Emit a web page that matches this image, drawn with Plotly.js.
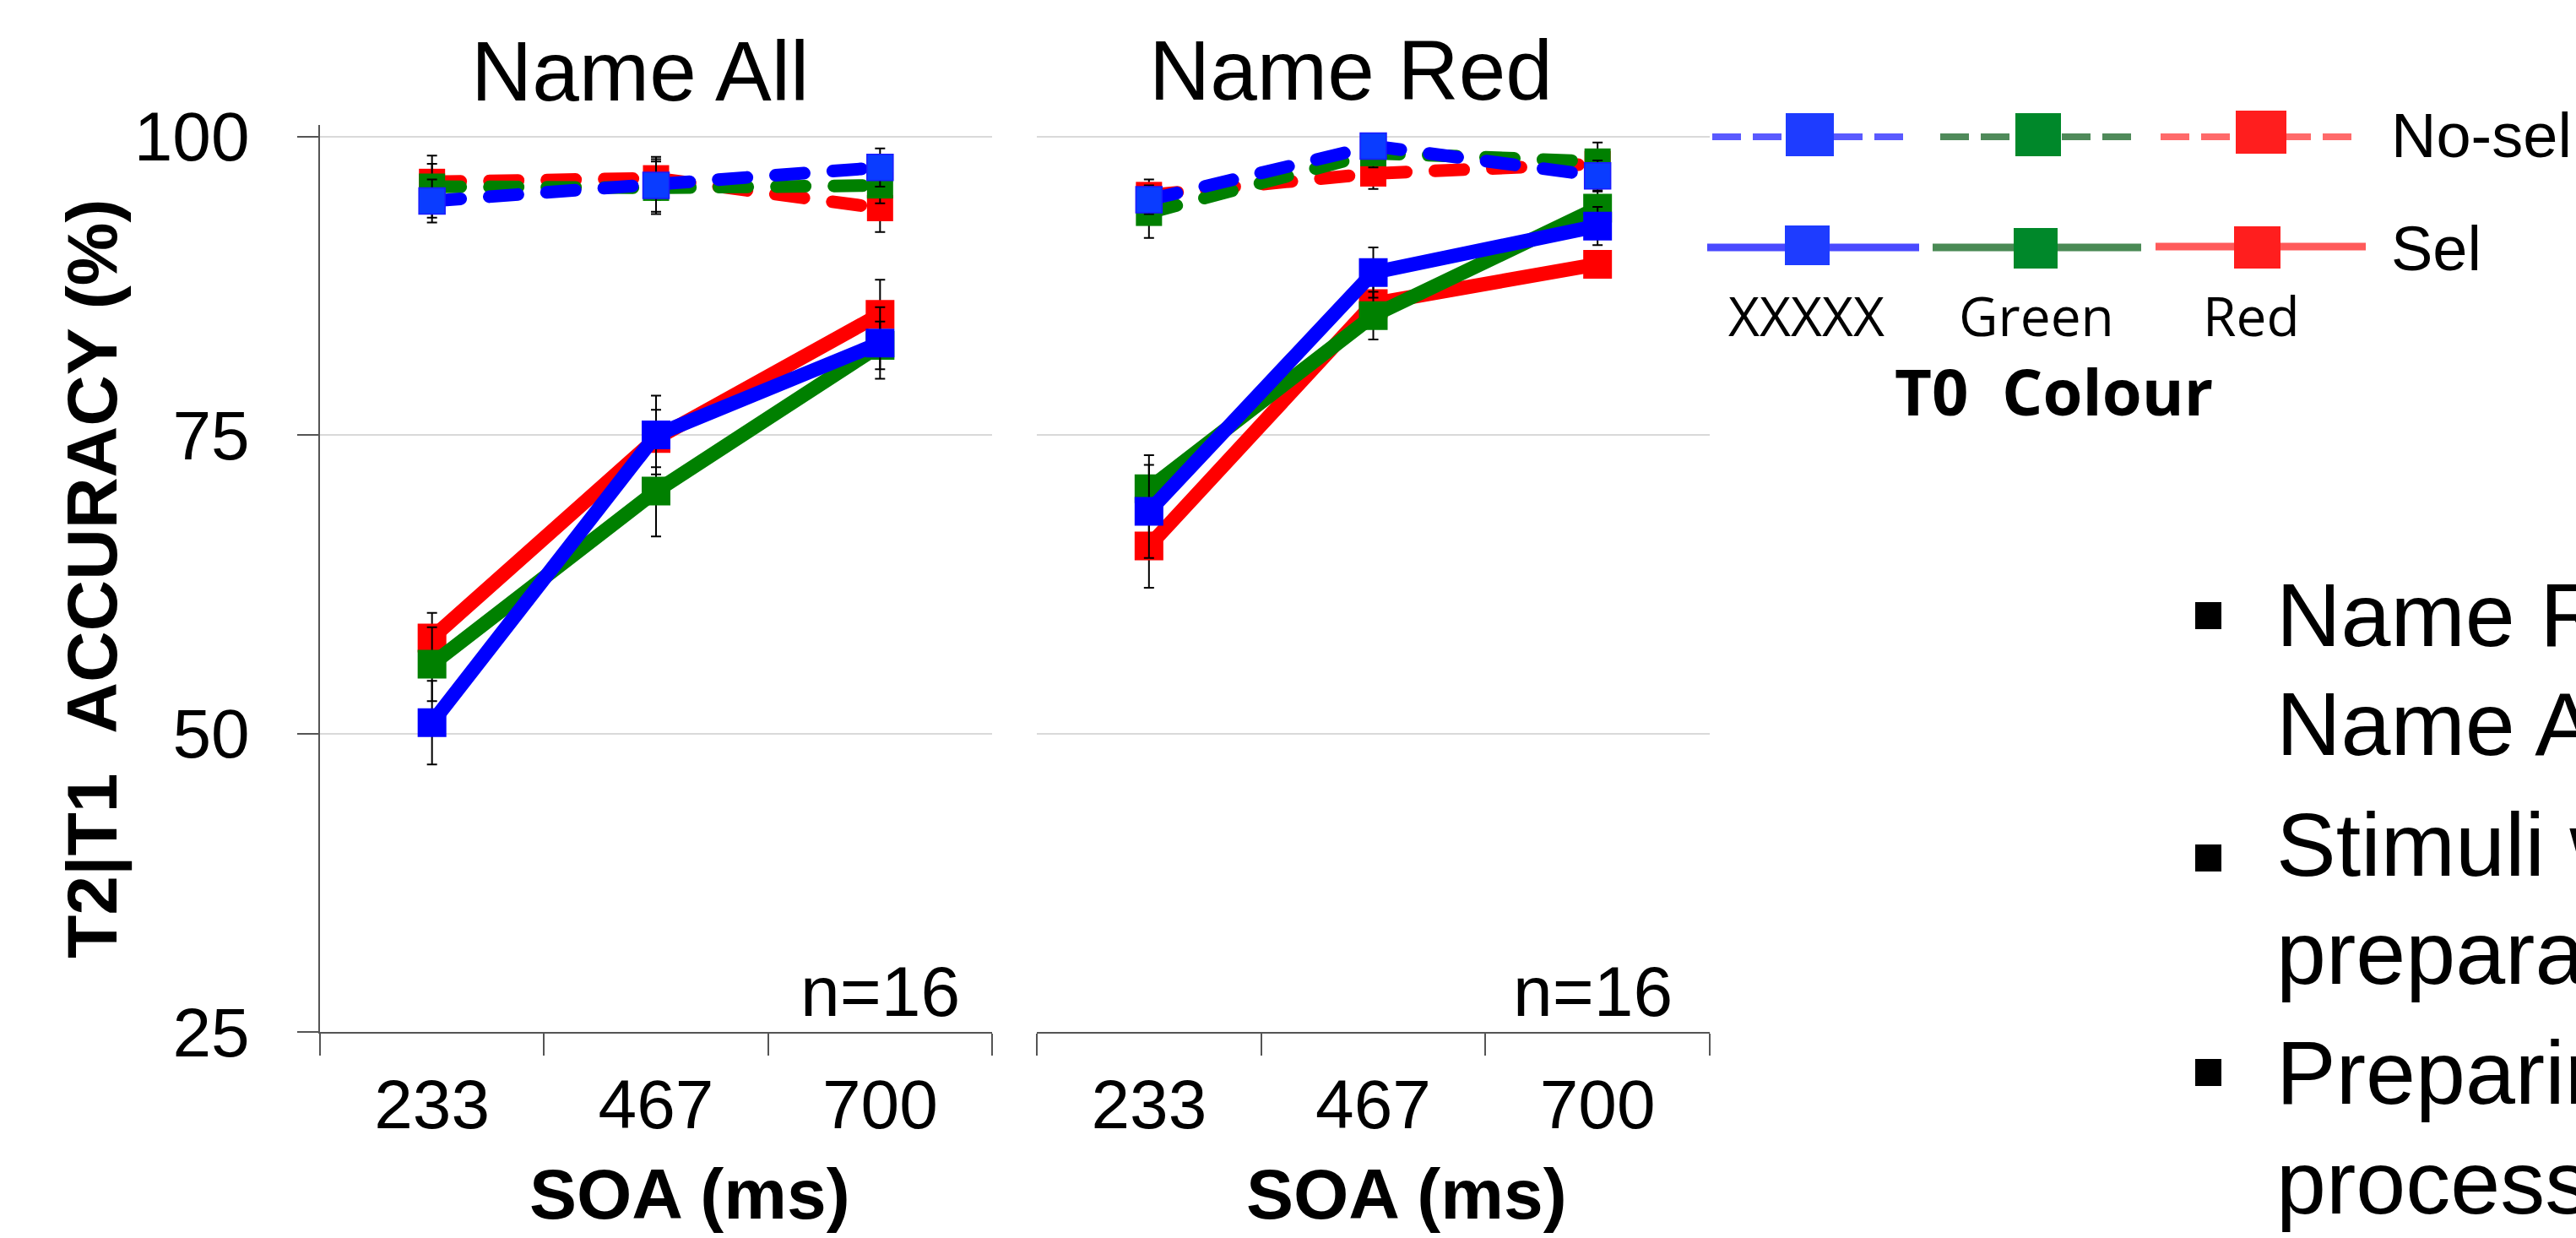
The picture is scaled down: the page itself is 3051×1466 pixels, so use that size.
<!DOCTYPE html>
<html><head><meta charset="utf-8">
<script src="https://cdn.plot.ly/plotly-3.0.1.min.js"></script>
<style>
html,body{margin:0;padding:0;background:#fff;}
#chart{width:3051px;height:1466px;}
.js-line{stroke-linecap:round;stroke-linejoin:round;}
</style></head><body><div id="chart"></div>
<script>
// ---------------- data ----------------
const soa = ['233', '467', '700'];
const yTickVals = [25, 50, 75, 100];
const panelTitles = ['Name All', 'Name Red'];
const colourNames = ['XXXXX', 'Green', 'Red'];
const condNames = ['No-sel', 'Sel'];

// Name All panel
const allNoSelXXXXX = [94.6, 95.9, 97.4];
const allNoSelGreen = [95.8, 95.7, 95.9];
const allNoSelRed   = [96.2, 96.5, 94.0];
const allSelXXXXX   = [50.9, 75.0, 82.7];
const allSelGreen   = [55.8, 70.3, 82.5];
const allSelRed     = [58.0, 74.7, 85.1];
const allNoSelXXXXXErr = [1.8, 2.2, 1.6];
const allNoSelGreenErr = [2.6, 2.2, 1.5];
const allNoSelRedErr   = [1.5, 1.8, 2.0];
const allSelXXXXXErr   = [3.5, 3.3, 3.0];
const allSelGreenErr   = [3.1, 3.8, 2.0];
const allSelRedErr     = [2.1, 2.4, 2.9];

// Name Red panel
const redNoSelXXXXX = [94.7, 99.2, 96.7];
const redNoSelGreen = [93.6, 98.6, 97.9];
const redNoSelRed   = [95.1, 96.9, 97.7];
const redSelXXXXX   = [68.6, 88.6, 92.5];
const redSelGreen   = [70.5, 85.0, 94.0];
const redSelRed     = [65.7, 86.0, 89.3];
const redNoSelXXXXXErr = [1.2, 0.9, 1.3];
const redNoSelGreenErr = [2.1, 1.2, 1.6];
const redNoSelRedErr   = [1.3, 1.3, 1.2];
const redSelXXXXXErr   = [3.9, 2.1, 1.6];
const redSelGreenErr   = [2.8, 2.0, 1.5];
const redSelRedErr     = [3.5, 2.0, 1.0];

const bulletLines = ['Name R', 'Name A', 'Stimuli w', 'prepara', 'Preparin', 'process'];

// ---------------- styling ----------------
const W = 3051, H = 1466;
const px = v => v / W;
const py = v => 1 - v / H;
const FONT = 'Liberation Sans, Arial, sans-serif';
const LEGFONT = 'Open Sans, Noto Sans, sans-serif';
const COL = {red: '#ff0000', green: '#008000', blue: '#0000ff'};

function series(xa, ya, y, err, colour, sel) {
  const isBlueNoSel = !sel && colour === COL.blue;
  return {
    type: 'scatter', mode: 'lines+markers', xaxis: xa, yaxis: ya,
    x: soa, y: y,
    line: {color: colour, width: sel ? 17 : 15, dash: sel ? 'solid' : '34px,34px'},
    marker: {symbol: 'square', size: sel ? 34 : 31,
             color: isBlueNoSel ? '#0a3cff' : colour,
             line: {color: isBlueNoSel ? '#1a1aff' : colour, width: isBlueNoSel ? 1.5 : 0}},
    error_y: {type: 'data', array: err, visible: true, color: '#000', thickness: 2, width: 6},
    hoverinfo: 'skip'
  };
}

const traces = [
  series('x', 'y', allSelRed, allSelRedErr, COL.red, true),
  series('x', 'y', allNoSelRed, allNoSelRedErr, COL.red, false),
  series('x', 'y', allSelGreen, allSelGreenErr, COL.green, true),
  series('x', 'y', allNoSelGreen, allNoSelGreenErr, COL.green, false),
  series('x', 'y', allSelXXXXX, allSelXXXXXErr, COL.blue, true),
  series('x', 'y', allNoSelXXXXX, allNoSelXXXXXErr, COL.blue, false),
  series('x2', 'y2', redSelRed, redSelRedErr, COL.red, true),
  series('x2', 'y2', redNoSelRed, redNoSelRedErr, COL.red, false),
  series('x2', 'y2', redSelGreen, redSelGreenErr, COL.green, true),
  series('x2', 'y2', redNoSelGreen, redNoSelGreenErr, COL.green, false),
  series('x2', 'y2', redSelXXXXX, redSelXXXXXErr, COL.blue, true),
  series('x2', 'y2', redNoSelXXXXX, redNoSelXXXXXErr, COL.blue, false)
];

const yDomain = [py(1222), py(148)];
const yRange = [25, 100 + (161.6 - 148) / 14.14];

function xAxis(domain, anchor) {
  return {
    domain: domain, anchor: anchor, type: 'category', range: [-0.5, 2.5],
    tickson: 'boundaries', ticks: 'outside', ticklen: 26, tickwidth: 2, tickcolor: '#555',
    showline: true, linecolor: '#555', linewidth: 2, showgrid: false, zeroline: false,
    tickfont: {family: FONT, size: 82, color: '#000'}, ticklabelstandoff: 14,
    fixedrange: true
  };
}
function yAxis(anchor, visibleAxis) {
  return {
    domain: yDomain, anchor: anchor, range: yRange, tickmode: 'array', tickvals: yTickVals,
    ticktext: yTickVals.map(String),
    ticks: visibleAxis ? 'outside' : '', ticklen: 25, tickwidth: 2, tickcolor: '#555',
    showline: visibleAxis, linecolor: '#555', linewidth: 2,
    showticklabels: visibleAxis,
    showgrid: true, gridcolor: '#d9d9d9', gridwidth: 2, zeroline: false,
    tickfont: {family: FONT, size: 82, color: '#000'}, ticklabelstandoff: 40,
    fixedrange: true
  };
}

const annotations = [];
function txt(text, x, y, size, opts) {
  annotations.push(Object.assign({
    text: text, x: px(x), y: py(y), xref: 'paper', yref: 'paper',
    showarrow: false, xanchor: 'center', yanchor: 'middle',
    font: {family: FONT, size: size, color: '#000'}
  }, opts || {}));
}
// panel titles
txt(panelTitles[0], 758, 84, 100);
txt(panelTitles[1], 1600, 83, 100);
// axis titles
txt('<b>SOA (ms)</b>', 817, 1414, 84);
txt('<b>SOA (ms)</b>', 1666, 1414, 84);
txt('<b>T2|T1\u00a0\u00a0ACCURACY (%)</b>', 109, 686, 84, {textangle: -90});
// n labels
txt('n=16', 1139, 1174, 84, {xanchor: 'right'});
txt('n=16', 1983, 1174, 84, {xanchor: 'right'});
// legend texts
txt(condNames[0], 2830, 160, 74, {xanchor: 'left'});
txt(condNames[1], 2830, 295, 74, {xanchor: 'left'});
txt(colourNames[0], 2139, 374, 64, {font: {family: LEGFONT, size: 64, color: '#000'}});
txt(colourNames[1], 2412, 374, 64, {font: {family: LEGFONT, size: 64, color: '#000'}});
txt(colourNames[2], 2666, 374, 64, {font: {family: LEGFONT, size: 64, color: '#000'}});
txt('<b>T0\u00a0\u00a0Colour</b>', 2432, 462, 76, {font: {family: LEGFONT, size: 76, color: '#000'}});
// bullet text (cut at the page edge)
const bulletBaselines = [766, 894.6, 1037.7, 1166, 1308, 1438];
bulletLines.forEach((t, i) => txt(t, 2694, bulletBaselines[i] - 38, 106, {xanchor: 'left'}));

// shapes: legend samples and bullets
const shapes = [];
function hline(x0, x1, y, colour, width, dash) {
  shapes.push({type: 'line', xref: 'paper', yref: 'paper', x0: px(x0), x1: px(x1), y0: py(y), y1: py(y),
               line: {color: colour, width: width, dash: dash}});
}
function rect(x0, y0, x1, y1, colour) {
  shapes.push({type: 'rect', xref: 'paper', yref: 'paper', x0: px(x0), x1: px(x1), y0: py(y1), y1: py(y0),
               fillcolor: colour, line: {width: 0}});
}
hline(2028, 2260, 162, '#5a5aff', 8, '34px,14px');
hline(2298, 2532, 162, '#4f8a5a', 8, '34px,14px');
hline(2559, 2795, 162, '#ff6a6a', 8, '34px,14px');
hline(2022, 2273, 293, '#4a4aff', 9, 'solid');
hline(2289, 2536, 293, '#4a8a55', 9, 'solid');
hline(2553, 2802, 292, '#ff5a5a', 9, 'solid');
rect(2115, 134, 2172, 185, '#1e3cff');
rect(2387, 134, 2441, 185, '#00882a');
rect(2648, 131, 2708, 182, '#ff1e1e');
rect(2114, 267, 2167, 314, '#1e3cff');
rect(2385, 270, 2437, 318, '#00882a');
rect(2646, 268, 2701, 318, '#ff1e1e');
// bullets
rect(2600, 713, 2631, 745, '#000');
rect(2600, 1000, 2631, 1032, '#000');
rect(2600, 1254, 2631, 1286, '#000');

const layout = {
  width: W, height: H, margin: {l: 0, r: 0, t: 0, b: 0},
  paper_bgcolor: '#fff', plot_bgcolor: 'rgba(0,0,0,0)',
  showlegend: false, font: {family: FONT, color: '#000'},
  xaxis: xAxis([px(379), px(1175)], 'y'),
  yaxis: yAxis('x', true),
  xaxis2: xAxis([px(1228), px(2025)], 'y2'),
  yaxis2: yAxis('x2', false),
  annotations: annotations, shapes: shapes
};

Plotly.newPlot('chart', traces, layout, {staticPlot: true, displayModeBar: false});
</script></body></html>
